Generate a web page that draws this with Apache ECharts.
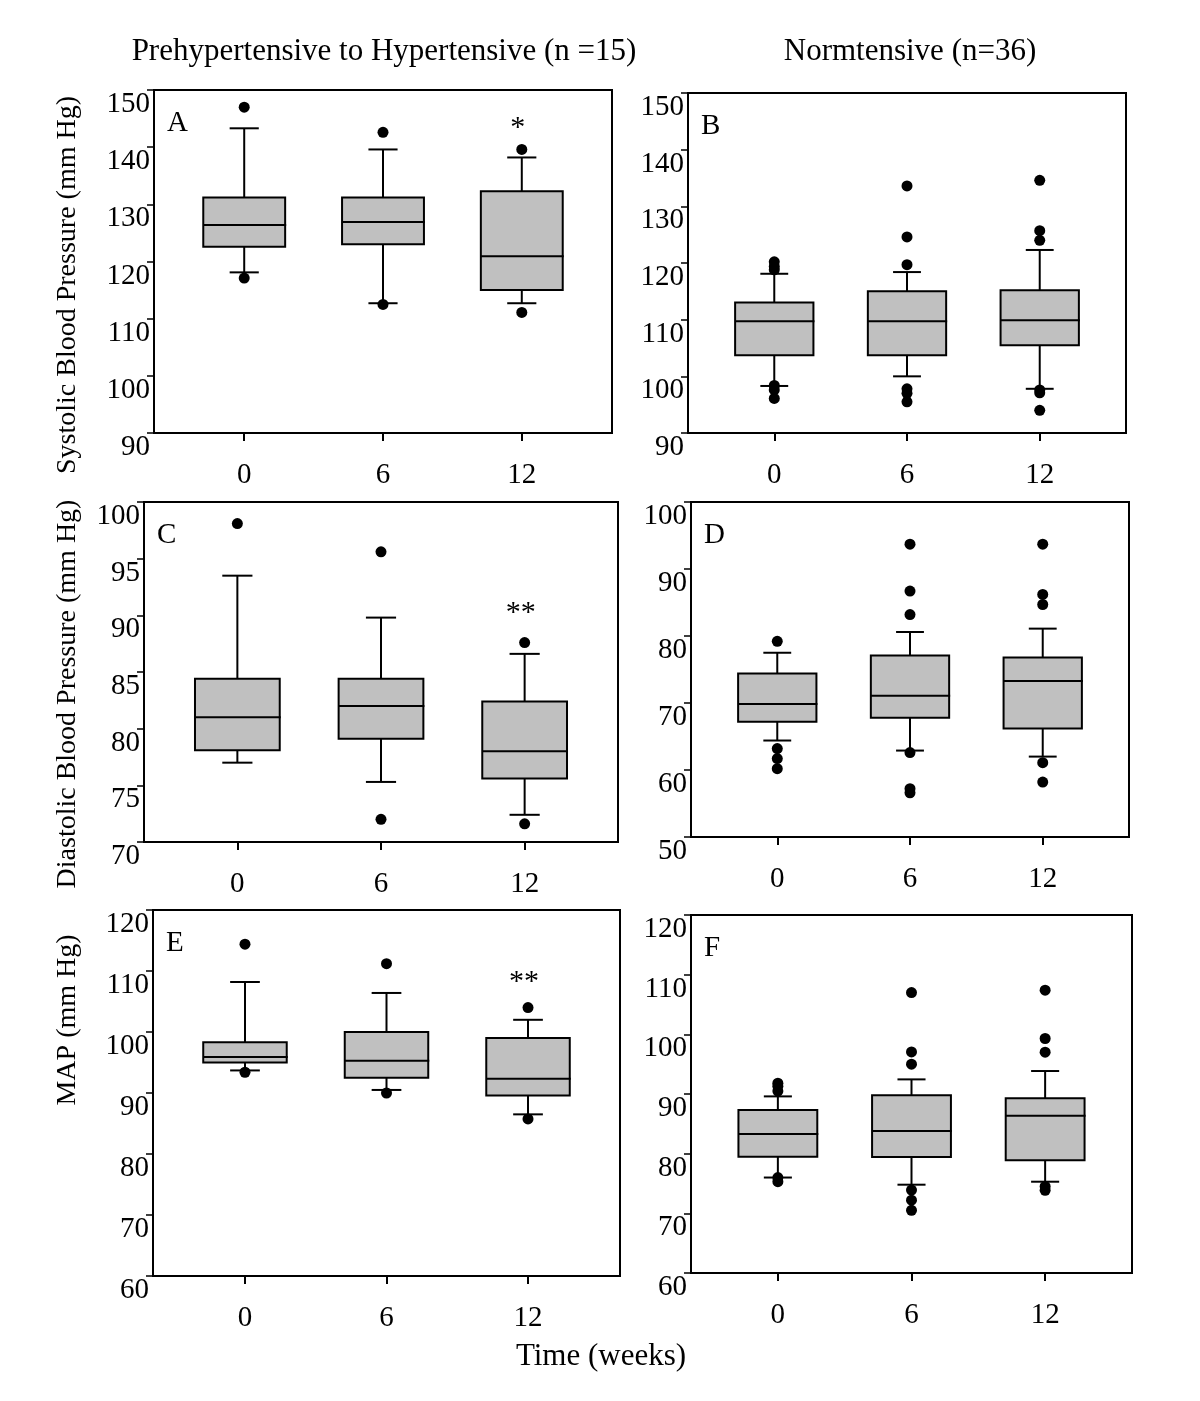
<!DOCTYPE html>
<html>
<head>
<meta charset="utf-8">
<script src="https://cdn.jsdelivr.net/npm/echarts@6/dist/echarts.min.js"></script>
<style>
html,body{margin:0;padding:0;background:#fff;}
#chart{width:1200px;height:1401px;}
</style>
</head>
<body>
<div id="chart"></div>
<script>
// ---- Data (weeks, box stats [week, lowerWhisker, Q1, median, Q3, upperWhisker], outliers [week, value]) ----
const weeks = [0, 6, 12];
const weekLabels = ['0', '6', '12'];

const columnTitles = ['Prehypertensive to Hypertensive (n =15)', 'Normtensive (n=36)'];
const rowNames = ['Systolic Blood Pressure (mm Hg)', 'Diastolic Blood Pressure (mm Hg)', 'MAP (mm Hg)'];
const xName = 'Time (weeks)';
const panelLetters = ['A', 'B', 'C', 'D', 'E', 'F'];

const yRangeSBP = [90, 150, 10];
const yRangeDBP_pre = [70, 100, 5];
const yRangeDBP_norm = [50, 100, 10];
const yRangeMAP = [60, 120, 10];

const boxA = [
  [0, 118.1, 122.6, 126.4, 131.2, 143.3],
  [6, 112.7, 123.0, 126.9, 131.2, 139.6],
  [12, 112.7, 115.0, 120.9, 132.3, 138.2]
];
const outA = [[0, 147.0], [0, 117.1], [6, 142.6], [6, 112.5], [12, 139.6], [12, 111.1]];
const starA = [[12, 144.5, '*']];

const boxB = [
  [0, 98.3, 103.7, 109.7, 113.05, 118.1],
  [6, 100.0, 103.7, 109.7, 115.0, 118.4],
  [12, 97.8, 105.5, 109.9, 115.2, 122.3]
];
const outB = [[0, 120.2], [0, 119.4], [0, 118.8], [0, 98.4], [0, 97.6], [0, 96.1],
  [6, 133.6], [6, 124.6], [6, 119.7], [6, 97.8], [6, 97.0], [6, 95.5],
  [12, 134.6], [12, 125.7], [12, 124.0], [12, 97.6], [12, 97.1], [12, 94.0]];
const starB = [];

const boxC = [
  [0, 77.0, 78.1, 81.0, 84.4, 93.5],
  [6, 75.3, 79.1, 82.0, 84.4, 89.8],
  [12, 72.4, 75.6, 78.0, 82.4, 86.6]
];
const outC = [[0, 98.1], [6, 95.6], [6, 72.0], [12, 87.6], [12, 71.6]];
const starC = [[12, 90.85, '**']];

const boxD = [
  [0, 64.4, 67.2, 69.85, 74.4, 77.5],
  [6, 62.9, 67.8, 71.1, 77.1, 80.6],
  [12, 62.0, 66.2, 73.3, 76.8, 81.1]
];
const outD = [[0, 79.2], [0, 63.2], [0, 61.7], [0, 60.2],
  [6, 93.7], [6, 86.7], [6, 83.2], [6, 62.6], [6, 57.2], [6, 56.6],
  [12, 93.7], [12, 86.2], [12, 84.7], [12, 61.1], [12, 58.2]];
const starD = [];

const boxE = [
  [0, 93.7, 95.0, 95.9, 98.3, 108.2],
  [6, 90.5, 92.5, 95.3, 100.0, 106.4],
  [12, 86.5, 89.6, 92.35, 99.0, 102.0]
];
const outE = [[0, 114.4], [0, 93.4], [6, 111.2], [6, 90.0], [12, 104.0], [12, 85.75]];
const starE = [[12, 109.3, '**']];

const boxF = [
  [0, 76.0, 79.5, 83.3, 87.3, 89.6],
  [6, 74.8, 79.45, 83.8, 89.8, 92.45],
  [12, 75.3, 78.9, 86.35, 89.3, 93.85]
];
const outF = [[0, 91.8], [0, 91.3], [0, 90.5], [0, 76.0], [0, 75.3],
  [6, 107.0], [6, 97.05], [6, 95.0], [6, 73.9], [6, 72.2], [6, 70.5],
  [12, 107.4], [12, 99.3], [12, 97.0], [12, 74.5], [12, 73.85]];
const starF = [];

// ---- Layout / style ----
const FONT = '"Liberation Serif", "Times New Roman", serif';
const xMin = -3.9, xMax = 15.9;
const halfBox = 1.77, halfCap = 0.63;

const panels = [
  { grid: { left: 154, top: 90, width: 458, height: 343 }, y: yRangeSBP, box: boxA, out: outA, star: starA },
  { grid: { left: 688, top: 93, width: 438, height: 340 }, y: yRangeSBP, box: boxB, out: outB, star: starB },
  { grid: { left: 144, top: 502, width: 474, height: 340 }, y: yRangeDBP_pre, box: boxC, out: outC, star: starC },
  { grid: { left: 691, top: 502, width: 438, height: 335 }, y: yRangeDBP_norm, box: boxD, out: outD, star: starD },
  { grid: { left: 153, top: 910, width: 467, height: 366 }, y: yRangeMAP, box: boxE, out: outE, star: starE },
  { grid: { left: 691, top: 915, width: 441, height: 358 }, y: yRangeMAP, box: boxF, out: outF, star: starF }
];

function renderBox(params, api) {
  const x = api.value(0);
  const lo = api.value(1), q1 = api.value(2), med = api.value(3), q3 = api.value(4), hi = api.value(5);
  const c = (a, b) => api.coord([a, b]);
  const ls = { stroke: '#000', lineWidth: 2 };
  const pLo = c(x, lo), pQ1 = c(x, q1), pQ3 = c(x, q3), pHi = c(x, hi);
  const capL = c(x - halfCap, lo)[0], capR = c(x + halfCap, lo)[0];
  const bL = c(x - halfBox, q1)[0], bR = c(x + halfBox, q1)[0];
  const pMed = c(x, med)[1];
  return {
    type: 'group',
    children: [
      { type: 'line', shape: { x1: pLo[0], y1: pLo[1], x2: pQ1[0], y2: pQ1[1] }, style: ls },
      { type: 'line', shape: { x1: pQ3[0], y1: pQ3[1], x2: pHi[0], y2: pHi[1] }, style: ls },
      { type: 'line', shape: { x1: capL, y1: pLo[1], x2: capR, y2: pLo[1] }, style: ls },
      { type: 'line', shape: { x1: capL, y1: pHi[1], x2: capR, y2: pHi[1] }, style: ls },
      { type: 'rect', shape: { x: bL, y: pQ3[1], width: bR - bL, height: pQ1[1] - pQ3[1] },
        style: { fill: '#c0c0c0', stroke: '#000', lineWidth: 2 } },
      { type: 'line', shape: { x1: bL, y1: pMed, x2: bR + 1, y2: pMed }, style: ls }
    ]
  };
}

const grid = [], xAxis = [], yAxis = [], series = [], graphic = [];
panels.forEach((p, i) => {
  grid.push(Object.assign({ show: true, borderColor: '#000', borderWidth: 2, backgroundColor: 'transparent' }, p.grid));
  xAxis.push({
    type: 'value', gridIndex: i, min: xMin, max: xMax,
    axisLine: { show: true, onZero: false, lineStyle: { color: '#000', width: 2 } },
    axisTick: { show: true, length: 8, customValues: weeks, lineStyle: { color: '#000', width: 2 } },
    axisLabel: { show: true, customValues: weeks, formatter: v => weekLabels[weeks.indexOf(v)] ?? '',
      margin: 28, color: '#000', fontFamily: FONT, fontSize: 29 },
    splitLine: { show: false }
  });
  yAxis.push({
    type: 'value', gridIndex: i, min: p.y[0], max: p.y[1], interval: p.y[2],
    axisLine: { show: true, onZero: false, lineStyle: { color: '#000', width: 2 } },
    axisTick: { show: true, length: 7, lineStyle: { color: '#000', width: 1.5 } },
    axisLabel: { show: true, margin: 4, verticalAlign: 'top', color: '#000', fontFamily: FONT, fontSize: 29,
      showMinLabel: true, showMaxLabel: true },
    splitLine: { show: false }
  });
  series.push({
    type: 'custom', xAxisIndex: i, yAxisIndex: i, renderItem: renderBox,
    encode: { x: 0, y: [1, 2, 3, 4, 5] }, data: p.box, z: 2, silent: true
  });
  series.push({
    type: 'scatter', xAxisIndex: i, yAxisIndex: i, data: p.out, symbol: 'circle', symbolSize: 11,
    itemStyle: { color: '#000', opacity: 1 }, z: 3, silent: true
  });
  if (p.star.length) {
    series.push({
      type: 'scatter', xAxisIndex: i, yAxisIndex: i, symbolSize: 0, z: 4, silent: true,
      itemStyle: { opacity: 1 },
      data: p.star.map(s => ({ value: [s[0], s[1]], name: s[2] })),
      label: { show: true, position: 'inside', formatter: '{b}', color: '#000', fontFamily: FONT, fontSize: 30,
        offset: [-4, 7] }
    });
  }
  graphic.push({
    type: 'text', x: p.grid.left + 13, y: p.grid.top + 33,
    style: { text: panelLetters[i], font: '29px ' + FONT, fill: '#000', align: 'left', verticalAlign: 'middle' }
  });
});

graphic.push({ type: 'text', x: 384, y: 52, style: { text: columnTitles[0], font: '31px ' + FONT, fill: '#000', align: 'center', verticalAlign: 'middle' } });
graphic.push({ type: 'text', x: 910, y: 52, style: { text: columnTitles[1], font: '31px ' + FONT, fill: '#000', align: 'center', verticalAlign: 'middle' } });
const rowCenters = [285, 694, 1020];
rowNames.forEach((t, r) => {
  graphic.push({ type: 'text', x: 68, y: rowCenters[r], rotation: Math.PI / 2,
    style: { text: t, font: '28px ' + FONT, fill: '#000', align: 'center', verticalAlign: 'middle' } });
});
graphic.push({ type: 'text', x: 601, y: 1357, style: { text: xName, font: '31px ' + FONT, fill: '#000', align: 'center', verticalAlign: 'middle' } });

const chart = echarts.init(document.getElementById('chart'), null, { renderer: 'canvas' });
chart.setOption({
  backgroundColor: '#fff',
  animation: false,
  grid, xAxis, yAxis, series, graphic
});
</script>
</body>
</html>
